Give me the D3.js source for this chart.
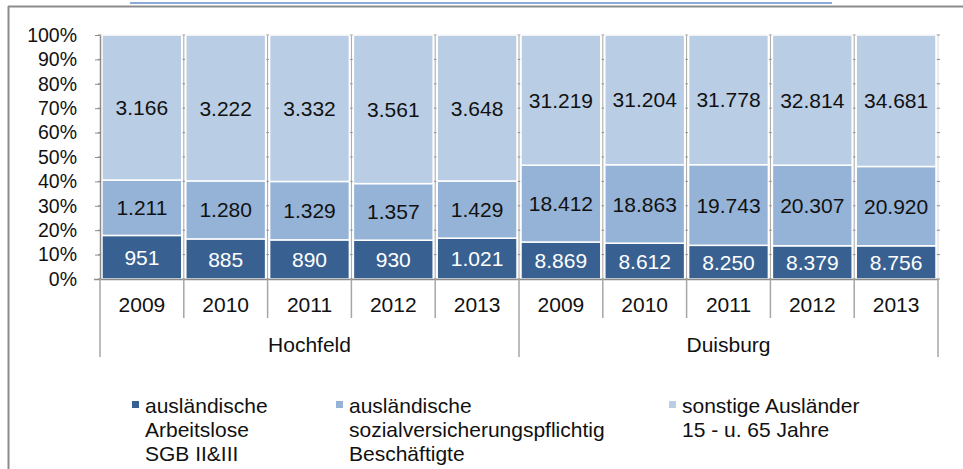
<!DOCTYPE html>
<html><head><meta charset="utf-8">
<script src="https://cdn.jsdelivr.net/npm/d3@7"></script>
<style>body{margin:0;background:#fff}svg{display:block;font-family:"Liberation Sans",Arial,sans-serif}</style>
</head><body><svg id="c" width="963" height="469"></svg>
<script>
const groups = ["Hochfeld","Duisburg"];
const years = ["2009","2010","2011","2012","2013"];
const arbeitslose = [951,885,890,930,1021, 8869,8612,8250,8379,8756];
const beschaeftigte = [1211,1280,1329,1357,1429, 18412,18863,19743,20307,20920];
const sonstige = [3166,3222,3332,3561,3648, 31219,31204,31778,32814,34681];
const seriesNames = ["ausländische\nArbeitslose\nSGB II&III","ausländische\nsozialversicherungspflichtig\nBeschäftigte","sonstige Ausländer\n15 - u. 65 Jahre"];
const colors = ["#386192","#95B3D7","#B9CDE5"];
const yTicks = [0,0.1,0.2,0.3,0.4,0.5,0.6,0.7,0.8,0.9,1];

const fmt = v => v.toLocaleString("de-DE");
const rows = [];
groups.forEach((g,gi)=>years.forEach((y,yi)=>{const i=gi*5+yi;rows.push({key:g+y,group:g,year:y,s0:arbeitslose[i],s1:beschaeftigte[i],s2:sonstige[i]});}));
const stack = d3.stack().keys(["s0","s1","s2"]).offset(d3.stackOffsetExpand)(rows);

const svg = d3.select("#c");
const L=100,R=938,T=35,B=279;
const FS=21;
const x = d3.scaleBand().domain(rows.map(r=>r.key)).range([L,R]).padding(0);
const y = d3.scaleLinear().domain([0,1]).range([B,T]);

// frame
svg.append("line").attr("x1",8).attr("x2",963).attr("y1",6.5).attr("y2",6.5).attr("stroke","#8c8c8c").attr("stroke-width",2);
svg.append("line").attr("x1",8.5).attr("x2",8.5).attr("y1",6).attr("y2",469).attr("stroke","#8c8c8c").attr("stroke-width",2);
svg.append("line").attr("x1",130).attr("x2",832).attr("y1",3).attr("y2",3).attr("stroke","#8EAADB").attr("stroke-width",2);

// separators with ticks
const sepG = svg.append("g");
const bounds = d3.range(rows.length+1).map(i=>L+i*x.bandwidth());
bounds.forEach((bx,i)=>{
  if(i>0 && i<rows.length){
    sepG.append("line").attr("x1",bx).attr("x2",bx).attr("y1",T).attr("y2",B).attr("stroke","#a6a6a6").attr("stroke-width",1);
  }
  if(i===rows.length){
    sepG.append("line").attr("x1",bx).attr("x2",bx).attr("y1",T).attr("y2",B).attr("stroke","#d9d9d9").attr("stroke-width",1);
  }
  yTicks.forEach(t=>sepG.append("line").attr("x1",bx-2).attr("x2",bx+2).attr("y1",y(t)).attr("y2",y(t)).attr("stroke","#8c8c8c"));
});
svg.append("line").attr("x1",L).attr("x2",R).attr("y1",T).attr("y2",T).attr("stroke","#d0d0d0");

// bars
stack.forEach((s,si)=>{
  const g = svg.append("g");
  g.selectAll("rect").data(s).join("rect")
    .attr("x",d=>x(d.data.key)+2).attr("width",x.bandwidth()-4)
    .attr("y",d=>y(d[1])).attr("height",d=>y(d[0])-y(d[1]))
    .attr("fill",colors[si]).attr("stroke","#fff").attr("stroke-width",1.5);
  g.selectAll("text").data(s).join("text")
    .attr("x",d=>x(d.data.key)+x.bandwidth()/2).attr("y",d=>(y(d[0])+y(d[1]))/2)
    .attr("dy","0.36em").attr("text-anchor","middle").attr("font-size",FS)
    .attr("fill",si===0?"#fff":"#111").text(d=>fmt(d.data["s"+si]));
});

// y axis
const ya = svg.append("g").attr("transform",`translate(${L},0)`)
  .call(d3.axisLeft(y).tickValues(yTicks).tickFormat(d=>Math.round(d*100)+"%").tickSize(5).tickSizeOuter(0));
ya.select(".domain").attr("stroke","#8c8c8c").attr("stroke-width",1.5);
ya.selectAll(".tick line").attr("stroke","#8c8c8c");
ya.selectAll(".tick text").attr("font-size",19.5).attr("fill","#111").attr("x",-23).attr("font-family","Liberation Sans, Arial, sans-serif");

// category axis
svg.append("line").attr("x1",L-6).attr("x2",R).attr("y1",B+0.5).attr("y2",B+0.5).attr("stroke","#8c8c8c").attr("stroke-width",1.5);
bounds.forEach((bx,i)=>{
  const long = (i%5===0);
  svg.append("line").attr("x1",bx).attr("x2",bx).attr("y1",B).attr("y2",long?357:318).attr("stroke","#a6a6a6").attr("stroke-width",1.5);
});
svg.append("g").selectAll("text").data(rows).join("text")
  .attr("x",d=>x(d.key)+x.bandwidth()/2).attr("y",304).attr("dy","0.36em")
  .attr("text-anchor","middle").attr("font-size",FS).attr("fill","#111").text(d=>d.year);
svg.append("g").selectAll("text").data(groups).join("text")
  .attr("x",(d,i)=>(x(d+years[0])+x(d+years[4])+x.bandwidth())/2).attr("y",344).attr("dy","0.36em")
  .attr("text-anchor","middle").attr("font-size",FS).attr("fill","#111").text(d=>d);

// legend
const legX = [132,336,669];
seriesNames.forEach((n,i)=>{
  const g = svg.append("g");
  g.append("rect").attr("x",legX[i]).attr("y",401).attr("width",7).attr("height",7).attr("fill",colors[i]);
  n.split("\n").forEach((ln,j)=>g.append("text").attr("x",legX[i]+13).attr("y",405+j*24).attr("dy","0.36em")
    .attr("font-size",FS).attr("fill","#111").text(ln));
});
</script></body></html>
